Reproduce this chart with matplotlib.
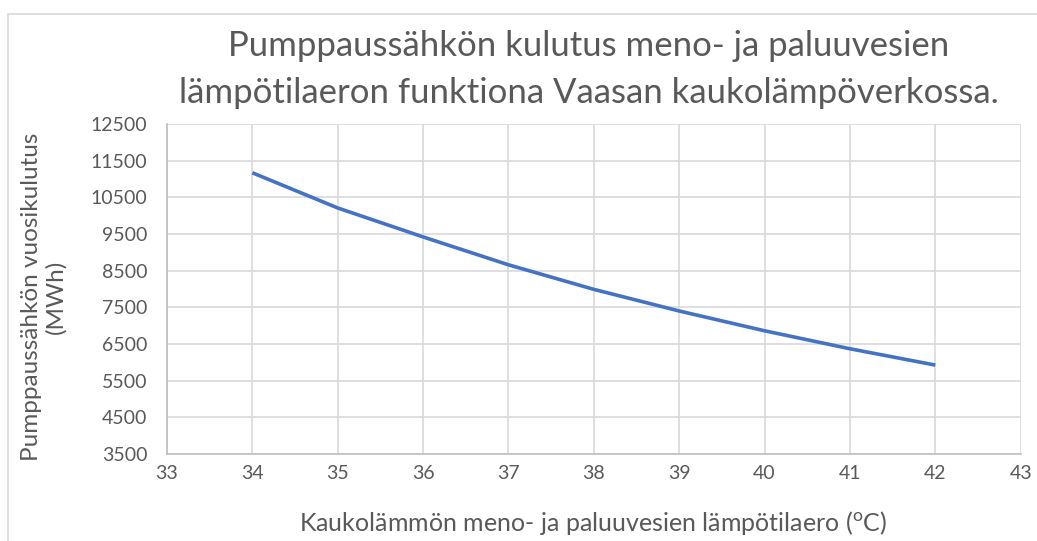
"""
Pumppaussähkön kulutus vs. meno- ja paluuveden lämpötilaero (Vaasa)
"""

import matplotlib.pyplot as plt
import matplotlib.patches as mpatches
import numpy as np

# ----- Data -----
dT = [34, 35, 36, 37, 38, 39, 40, 41, 42]
energy_mwh = [11170, 10210, 9420, 8660, 7990, 7400, 6860, 6370, 5925]

x_ticks = np.arange(33, 44, 1)
y_ticks = np.arange(3500, 12501, 1000)

title_lines = ['Pumppaussähkön kulutus meno- ja paluuvesien',
               'lämpötilaeron funktiona Vaasan kaukolämpöverkossa.']
xlabel = 'Kaukolämmön meno- ja paluuvesien lämpötilaero (${}^{\\mathrm{o}}$C)'
ylabel_lines = ['Pumppaussähkön vuosikulutus', '(MWh)']

# ----- Style -----
plt.rcParams['font.family'] = ['Lato', 'DejaVu Sans']
plt.rcParams['mathtext.fontset'] = 'custom'
plt.rcParams['mathtext.rm'] = 'Lato'
txt = '#595959'
grid_c = '#d9d9d9'
W, H = 1037, 541

fig = plt.figure(figsize=(W / 100, H / 100), dpi=100)
ax = fig.add_axes([167 / W, 1 - 454 / H, (1020.7 - 167) / W, (454 - 124) / H])

ax.plot(dT, energy_mwh, color='#4472C4', linewidth=2.6, solid_capstyle='butt', zorder=3)

ax.set_xlim(33, 43)
ax.set_ylim(3500, 12500)
ax.set_xticks(x_ticks)
ax.set_yticks(y_ticks)
ax.tick_params(length=0, labelsize=14, labelcolor=txt)
ax.tick_params(axis='x', pad=8)
ax.tick_params(axis='y', pad=14)
ax.grid(True, color=grid_c, linewidth=1.2, zorder=0)
for s in ['top', 'right']:
    ax.spines[s].set_visible(False)
for s in ['left', 'bottom']:
    ax.spines[s].set_color('#bfbfbf')
    ax.spines[s].set_linewidth(1.2)

# title, two lines placed by baseline
for line, base in zip(title_lines, [56, 103]):
    fig.text(589 / W, 1 - base / H, line, ha='center', va='baseline',
             fontsize=25, color=txt)

# y label, rotated, placed by baseline
for line, base in zip(ylabel_lines, [38, 62]):
    fig.text(base / W, 1 - 297 / H, line, ha='center', va='baseline', rotation=90,
             rotation_mode='anchor', fontsize=17.5, color=txt)

fig.text(593 / W, 1 - 523 / H, xlabel, ha='center', va='center',
         fontsize=18, color=txt)

# chart area border (cut off at right and bottom)
fig.patches.append(mpatches.Rectangle((8 / W, -0.05), 1.1, 1 - 14 / H + 0.05,
                                      transform=fig.transFigure, fill=False,
                                      edgecolor=grid_c, linewidth=1.2))

fig.savefig('out.png', dpi=100)
